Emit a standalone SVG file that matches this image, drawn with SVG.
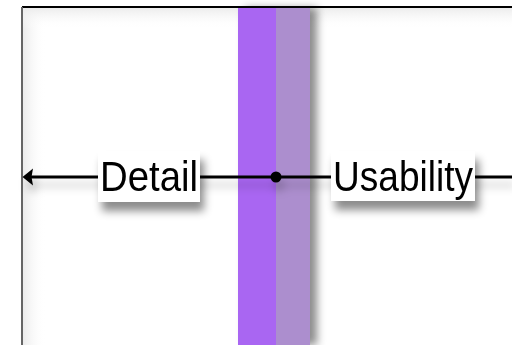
<svg xmlns="http://www.w3.org/2000/svg" width="512" height="345" viewBox="0 0 512 345">
<defs>
<style>
.lbl{font-family:"Liberation Sans",Arial,sans-serif;font-size:43px;fill:#000;}
.box{fill:#fff;}
.conn{stroke:#000;stroke-width:3;fill:none;}
</style>
<filter id="sh" x="-30%" y="-30%" width="160%" height="180%">
<feDropShadow dx="4" dy="9" stdDeviation="4" flood-color="#000" flood-opacity="0.45"/>
</filter>
<filter id="lsh" filterUnits="userSpaceOnUse" x="0" y="150" width="512" height="60">
<feDropShadow dx="3" dy="8" stdDeviation="4" flood-color="#000" flood-opacity="0.25"/>
</filter>
<filter id="bsh" x="-20%" y="-10%" width="160%" height="120%">
<feDropShadow dx="7" dy="0" stdDeviation="4" flood-color="#000" flood-opacity="0.45"/>
</filter>
<linearGradient id="gl" x1="0" y1="0" x2="1" y2="0">
<stop offset="0" stop-color="#eaeaea"/>
<stop offset="1" stop-color="#fff" stop-opacity="0"/>
</linearGradient>
<linearGradient id="gt" x1="0" y1="0" x2="0" y2="1">
<stop offset="0" stop-color="#eaeaea"/>
<stop offset="1" stop-color="#fff" stop-opacity="0"/>
</linearGradient>
</defs>
<rect width="512" height="345" fill="#fff"/>
<g id="frame">
<rect x="22" y="7" width="490" height="338" fill="#fff"/>
<rect x="22" y="7" width="24" height="338" fill="url(#gl)"/>
<rect x="22" y="7" width="490" height="22" fill="url(#gt)"/>
<line x1="22" y1="7" x2="512" y2="7" stroke="#000" stroke-width="2"/>
<line x1="22" y1="7" x2="22" y2="345" stroke="#666" stroke-width="2"/>
</g>
<g id="bars" filter="url(#bsh)">
<rect x="238" y="8" width="38" height="337" fill="#A966F2"/>
<rect x="276" y="8" width="34" height="337" fill="#AC8ECE"/>
</g>
<g id="connectors" filter="url(#lsh)">
<path class="conn" d="M512,177 L30,177"/>
<path d="M22.5,177 L33,168.5 L31.5,177 L33,185.5 Z" fill="#000"/>
<circle cx="276" cy="177" r="5.5" fill="#000"/>
</g>
<g id="detail" filter="url(#sh)">
<rect class="box" x="98" y="151" width="102" height="51"/>
<text class="lbl" x="149" y="191" text-anchor="middle" textLength="98" lengthAdjust="spacingAndGlyphs">Detail</text>
</g>
<g id="usability" filter="url(#sh)">
<rect class="box" x="331" y="151" width="144" height="50"/>
<text class="lbl" x="403" y="191" text-anchor="middle" textLength="140" lengthAdjust="spacingAndGlyphs">Usability</text>
</g>
</svg>
